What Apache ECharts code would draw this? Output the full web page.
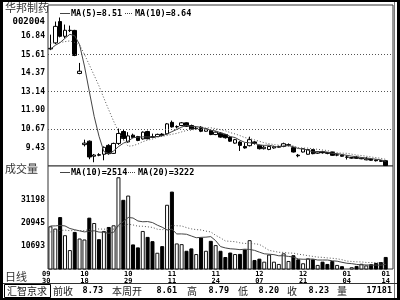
<!DOCTYPE html>
<html><head><meta charset="utf-8">
<script src="https://cdn.jsdelivr.net/npm/echarts@6/dist/echarts.min.js"></script>
<style>html,body{margin:0;padding:0;background:#fff}#c{width:400px;height:300px}</style>
</head><body><div id="c"></div>
<script>
const stockName = '华邦制药';
const stockCode = '002004';
const dates = ['09/30','10/08','10/11','10/12','10/13','10/14','10/15','10/18','10/19','10/20',
'10/21','10/22','10/25','10/26','10/27','10/28','10/29','11/01','11/02','11/03',
'11/04','11/05','11/08','11/09','11/10','11/11','11/12','11/15','11/16','11/17',
'11/18','11/19','11/22','11/23','11/24','11/25','11/26','11/29','11/30','12/01',
'12/02','12/03','12/06','12/07','12/08','12/09','12/10','12/13','12/15','12/16',
'12/17','12/20','12/21','12/22','12/23','12/24','12/27','12/28','12/29','12/30',
'12/31','01/04','01/05','01/06','01/07','01/10','01/11','01/12','01/13','01/14'];
const dateTickLabels = ['09/30','10/18','10/29','11/11','11/24','12/07','12/21','01/04','01/14'];
const opens = [15.98,16.38,17.80,16.82,17.20,17.21,14.35,9.62,9.85,8.85,
8.95,8.98,9.57,9.04,9.70,10.49,9.80,10.25,10.16,10.00,
10.49,10.15,10.16,10.32,10.34,11.10,10.80,10.89,11.07,10.89,
10.68,10.78,10.51,10.56,10.29,10.38,10.29,10.12,9.72,9.79,
9.50,9.55,9.80,9.57,9.35,9.30,9.40,9.45,9.50,9.58,
9.42,8.92,9.13,8.98,9.29,9.05,9.15,9.10,9.13,8.92,
8.92,8.78,8.72,8.78,8.68,8.61,8.66,8.60,8.56,8.55];
const closes = [16.02,17.48,16.82,17.22,17.22,15.55,14.50,9.72,8.80,8.93,
8.92,9.44,9.02,9.70,10.36,10.03,10.20,10.10,9.90,10.45,
10.01,10.10,10.30,10.22,11.00,10.80,10.82,11.07,10.84,10.67,
10.72,10.51,10.67,10.29,10.45,10.12,10.08,9.85,9.95,9.57,
9.40,9.95,9.70,9.35,9.45,9.50,9.48,9.50,9.68,9.62,
9.13,8.88,9.35,9.29,9.02,9.15,9.08,9.04,8.91,8.95,
8.85,8.80,8.76,8.71,8.73,8.68,8.58,8.55,8.51,8.23];
const lows = [15.90,16.30,16.75,16.70,17.10,15.50,14.30,9.50,8.65,8.45,
8.85,8.58,8.95,9.00,9.60,9.95,9.75,10.05,9.85,9.95,
9.98,10.05,10.12,10.18,10.30,10.75,10.70,10.85,10.80,10.62,
10.60,10.45,10.48,10.25,10.25,10.08,10.02,9.80,9.68,9.20,
9.35,9.50,9.62,9.30,9.30,9.25,9.35,9.40,9.45,9.50,
9.10,8.78,9.10,8.95,8.98,9.00,9.02,8.98,8.88,8.85,
8.82,8.63,8.68,8.68,8.65,8.58,8.55,8.50,8.48,8.20];
const highs = [16.93,17.80,18.07,17.60,17.53,17.25,15.05,9.95,9.90,9.00,
9.05,9.50,9.65,9.75,10.69,10.60,10.45,10.35,10.20,10.50,
10.55,10.35,10.35,10.38,11.05,11.22,10.90,11.12,11.10,10.95,
10.80,10.85,10.72,10.62,10.50,10.45,10.32,10.18,10.00,9.85,
9.75,10.15,9.85,9.62,9.55,9.55,9.55,9.55,9.75,9.70,
9.45,9.00,9.38,9.32,9.32,9.18,9.18,9.12,9.15,9.02,
8.98,8.91,8.80,8.88,8.76,8.79,8.70,8.64,8.60,8.58];
const volumes = [19530,18510,23650,15550,8900,17010,14080,13640,23390,21000,
13770,17450,19230,19980,41450,31360,33270,11430,10100,17450,
14790,12890,7710,10670,29150,35040,11870,11560,8590,9650,
7130,14530,8590,13030,11120,8590,5800,7800,7130,7200,
9200,13330,4470,5050,3720,6900,3720,2700,7440,4030,
6600,4780,3010,5200,4780,2260,3720,2700,3990,2260,
1700,440,1240,1810,2769,2050,2600,3150,3550,5831];
const prevCloses = [16.9,16.8,16.7,16.7,16.6,16.2,15.9,15.8,15.9];
const prevVolumes = [13000,15500,12800,14200,16000,13500,14800,12600,15400,15500,
18200,21500,17800,20400,22600,19000,18300,21000,18400];
const priceTickLabels = ['9.43','10.67','11.90','13.14','14.37','15.61','16.84'];
const priceGridValues = [10.67, 13.14, 15.61];
const volTickLabels = ['10693','20945','31198'];
const infoLabels = ['前收','本周开','高','低','收','量'];
const infoValues = ['8.73','8.61','8.79','8.20','8.23','17181'];

function movingAvg(prev, arr, n) {
  const all = prev.concat(arr);
  return arr.map((_, i) => {
    const end = prev.length + i; let s = 0;
    for (let k = end - n + 1; k <= end; k++) s += all[k];
    return s / n;
  });
}
const ma5 = movingAvg(prevCloses, closes, 5);
const ma10 = movingAvg(prevCloses, closes, 10);
const vma10 = movingAvg(prevVolumes, volumes, 10);
const vma20 = movingAvg(prevVolumes, volumes, 20);
const last = closes.length - 1;

const cats = dates.concat(['']);
const candles = dates.map((_, i) => [opens[i], closes[i], lows[i], highs[i]]);
const volData = volumes.map((v, i) => ({
  value: v,
  itemStyle: closes[i] >= opens[i] ? {color:'#fff', borderColor:'#111', borderWidth:1} : {color:'#000', borderColor:'#000', borderWidth:1}
}));

function pick(list, tol) {
  return v => { for (const s of list) if (Math.abs(parseFloat(s) - v) < tol) return s; return ''; };
}
const MONO = '"DejaVu Sans Mono", monospace';
const CJK = '"Noto Sans CJK SC", sans-serif';
const numLabel = {fontFamily: MONO, fontWeight: 'bold', fontSize: 8, color: '#000', margin: 3};

function txt(x, y, text, font, fill, align) {
  return {type:'text', x:x, y:y, z:50, style:{text:text, font:font, fill:fill||'#000', align:align||'left', verticalAlign:'middle'}};
}
function seg(x1, y, x2, dash) {
  return {type:'line', z:50, shape:{x1:x1, y1:y, x2:x2, y2:y}, style:{stroke:'#444', lineWidth:1, lineDash: dash || null}};
}
const numFont = 'bold 8.5px ' + MONO;
const cjkFont = '10px ' + CJK;

const infoX = [53, 112, 187, 238, 287, 337];
const infoValX = [103, 177, 229, 279, 329, 392];

const graphic = [
  {type:'rect', z:60, shape:{x:0, y:0, width:3, height:300}, style:{fill:'#000'}},
  {type:'rect', z:60, shape:{x:0, y:0, width:400, height:2}, style:{fill:'#000'}},
  {type:'rect', z:60, shape:{x:397, y:0, width:3, height:300}, style:{fill:'#000'}},
  {type:'rect', z:60, shape:{x:0, y:298, width:400, height:2}, style:{fill:'#000'}},
  {type:'line', z:60, shape:{x1:394.5, y1:2, x2:394.5, y2:298}, style:{stroke:'#777', lineWidth:1}},
  {type:'line', z:60, shape:{x1:3, y1:283.5, x2:397, y2:283.5}, style:{stroke:'#333', lineWidth:1}},
  {type:'rect', z:60, shape:{x:4.5, y:284.5, width:46, height:13}, style:{fill:'none', stroke:'#000', lineWidth:1}},
  txt(5, 8, stockName, '11px ' + CJK, '#333'),
  txt(45, 21.5, stockCode, 'bold 9px ' + MONO, '#000', 'right'),
  seg(60, 13.5, 70), txt(71, 13.5, 'MA(5)=' + ma5[last].toFixed(2), numFont),
  seg(125, 13.5, 133, [1,1]), txt(135, 13.5, 'MA(10)=' + ma10[last].toFixed(2), numFont),
  txt(5, 168.5, '成交量', '11px ' + CJK, '#333'),
  seg(60, 172.5, 70), txt(71, 172.5, 'MA(10)=' + Math.round(vma10[last]), numFont),
  seg(128, 172.5, 136, [1,1]), txt(138, 172.5, 'MA(20)=' + Math.round(vma20[last]), numFont),
  txt(5, 276.5, '日线', '11px ' + CJK, '#333'),
  txt(7, 291, '汇智京求', cjkFont, '#222')
];
infoLabels.forEach((s, i) => graphic.push(txt(infoX[i], 291, s, cjkFont, '#222')));
infoValues.forEach((s, i) => graphic.push(txt(infoValX[i], 291, s, numFont, '#000', 'right')));

const chart = echarts.init(document.getElementById('c'), null, {renderer:'canvas'});
chart.setOption({
  animation: false,
  backgroundColor: '#fff',
  grid: [
    {left:48, top:5, width:345, height:161, show:true, borderColor:'#333', borderWidth:1, backgroundColor:'#fff'},
    {left:48, top:166, width:345, height:103, show:true, borderColor:'#333', borderWidth:1, backgroundColor:'#fff'}
  ],
  xAxis: [
    {gridIndex:0, type:'category', data:cats, boundaryGap:true, axisLine:{show:false}, axisTick:{show:false}, axisLabel:{show:false}, splitLine:{show:false}},
    {gridIndex:1, type:'category', data:cats, boundaryGap:true, axisLine:{show:false}, axisTick:{show:false}, splitLine:{show:false},
     axisLabel:{show:true, interval:(i, v) => dateTickLabels.includes(v), formatter:v => v.replace('/', '\n'),
       fontFamily:MONO, fontWeight:'bold', fontSize:7, lineHeight:7, color:'#000', margin:2, alignMinLabel:'right'}}
  ],
  yAxis: [
    {gridIndex:0, type:'value', min:8.20, max:18.90, interval:1.2345, axisLine:{show:false}, axisTick:{show:false}, splitLine:{show:false},
     axisLabel:Object.assign({formatter: pick(priceTickLabels, 0.01)}, numLabel)},
    {gridIndex:1, type:'value', min:440, max:46480, interval:10252.5, axisLine:{show:false}, axisTick:{show:false}, splitLine:{show:false},
     axisLabel:Object.assign({formatter: pick(volTickLabels, 2)}, numLabel)}
  ],
  series: [
    {type:'candlestick', xAxisIndex:0, yAxisIndex:0, data:candles, barWidth:4, z:3,
     itemStyle:{color:'#fff', color0:'#000', borderColor:'#000', borderColor0:'#000', borderWidth:1},
     markLine:{silent:true, symbol:'none', label:{show:false}, animation:false,
       lineStyle:{color:'#555', width:1, type:[1,2]}, data: priceGridValues.map(v => ({yAxis:v}))}},
    {type:'line', xAxisIndex:0, yAxisIndex:0, data:ma5, showSymbol:false, z:4, lineStyle:{color:'#444', width:1}},
    {type:'line', xAxisIndex:0, yAxisIndex:0, data:ma10, showSymbol:false, z:4, lineStyle:{color:'#555', width:1, type:[1,2]}},
    {type:'bar', xAxisIndex:1, yAxisIndex:1, data:volData, barWidth:4, z:2},
    {type:'line', xAxisIndex:1, yAxisIndex:1, data:vma10, showSymbol:false, z:4, lineStyle:{color:'#444', width:1}},
    {type:'line', xAxisIndex:1, yAxisIndex:1, data:vma20, showSymbol:false, z:4, lineStyle:{color:'#555', width:1, type:[1,2]}}
  ],
  graphic: graphic
});
</script></body></html>
